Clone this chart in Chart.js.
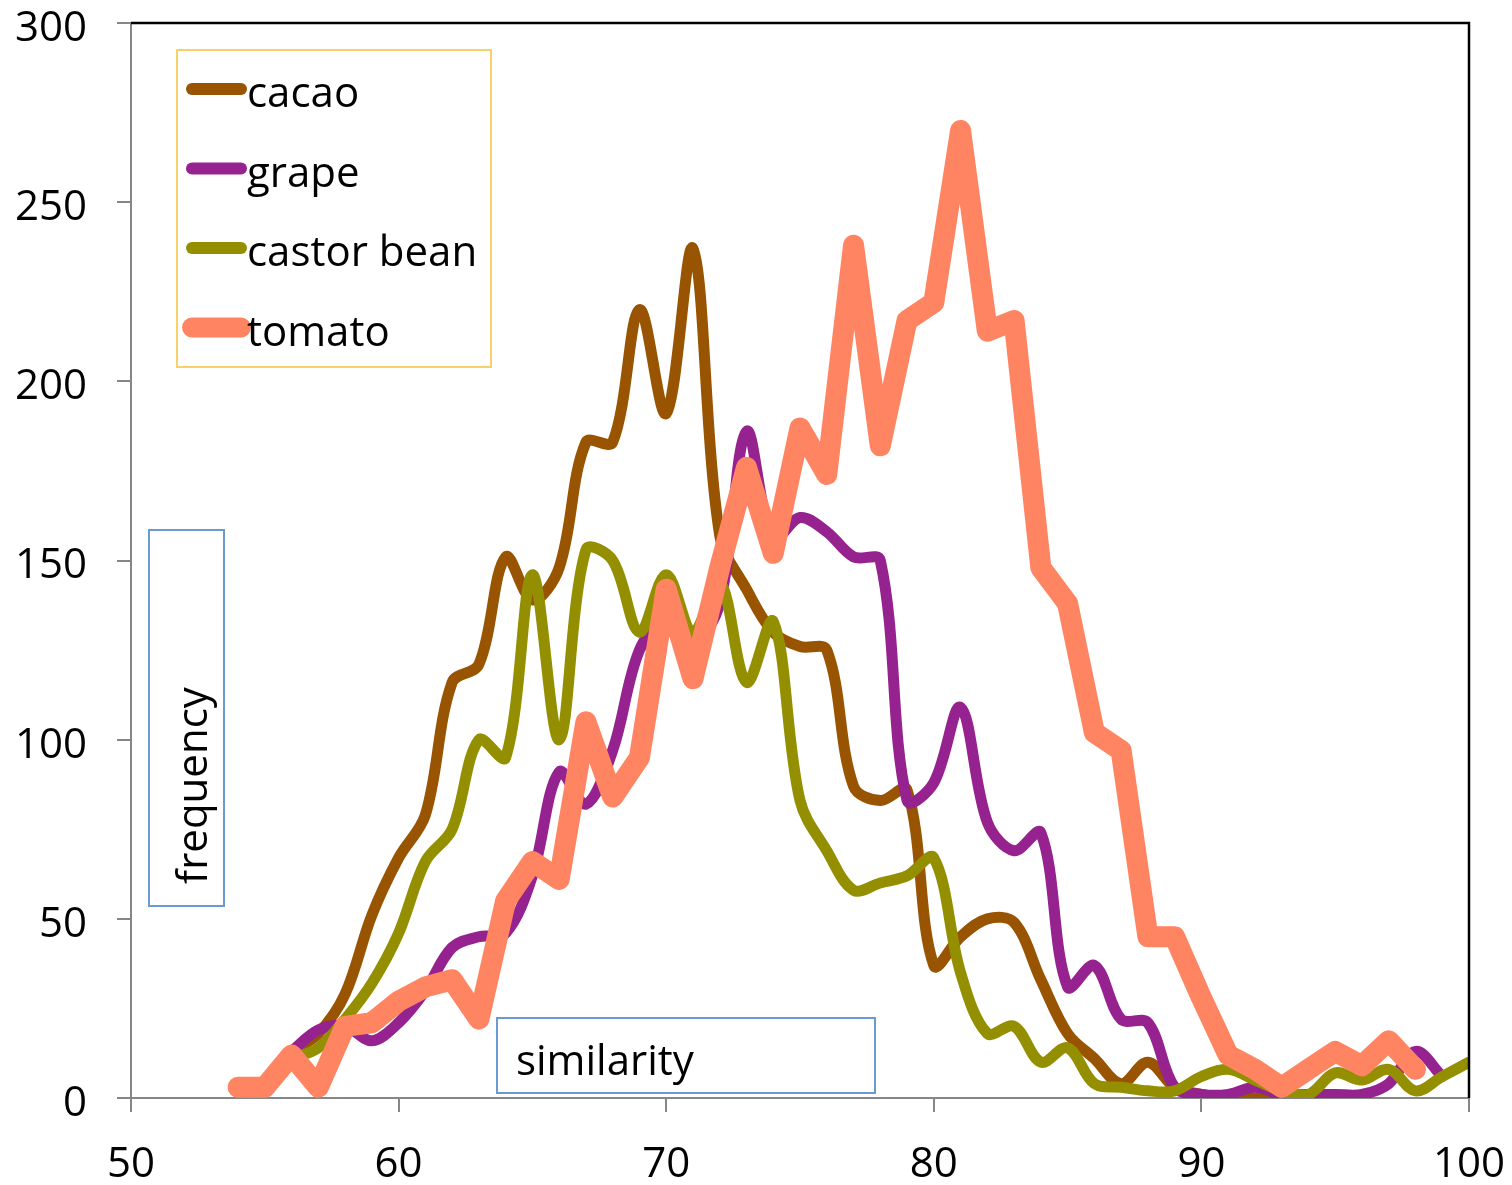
<!DOCTYPE html>
<html>
<head>
<meta charset="utf-8">
<script src="https://cdn.jsdelivr.net/npm/chart.js"></script>
<style>
  html, body { margin: 0; padding: 0; background: #fff; }
  #wrap { width: 1512px; height: 1185px; position: relative; }
</style>
</head>
<body>
<div id="wrap"><canvas id="chart" width="1512" height="1185"></canvas></div>
<script>
// similarity values 54..100
var similarity = [54,55,56,57,58,59,60,61,62,63,64,65,66,67,68,69,70,71,72,73,74,75,76,77,
  78,79,80,81,82,83,84,85,86,87,88,89,90,91,92,93,94,95,96,97,98,99,100];

var cacao = [null,null,13,18,29,51,67,79,116,121,151,139,148,183,183,220,191,237,157,142,130,126,125,87,
  83,86,37,45,50,49,33,18,11,4,10,3,1,0,0,0,null,null,null,null,null,null,null];
var grape = [null,null,13,19,20,16,21,30,42,45,46,62,91,82,97,125,133,127,138,186,156,162,158,151,
  150,83,88,109,77,69,74,31,37,22,21,3,1,1,3,1,1,1,1,4,13,6,null];
var castorBean = [null,null,11,14,22,32,46,66,75,100,95,146,100,153,150,130,146,130,144,116,133,83,69,58,
  60,62,67,35,18,20,10,14,4,3,2,2,6,8,5,2,1,7,5,8,2,6,10];
var tomato = [3,3,12,3,20,21,27,31,33,22,55,66,61,105,84,95,142,117,148,176,152,187,174,238,
  182,217,222,270,214,217,148,138,102,97,45,45,28,12,8,3,8,13,9,16,8,null,null];

var xTicks = [50,60,70,80,90,100];
var yTicks = [0,50,100,150,200,250,300];

var FONT = "'Open Sans', sans-serif";

function pts(vals) {
  return similarity.map(function (s, i) { return { x: s, y: vals[i] }; });
}

var series = [
  { label: 'cacao', data: cacao, color: '#985400', width: 11, smooth: true, order: 4 },
  { label: 'grape', data: grape, color: '#95228F', width: 11, smooth: true, order: 3 },
  { label: 'castor bean', data: castorBean, color: '#948F00', width: 11, smooth: true, order: 2 },
  { label: 'tomato', data: tomato, color: '#FF8562', width: 21, smooth: false, order: 1 }
];

var datasets = series.map(function (s) {
  return {
    label: s.label,
    data: pts(s.data),
    borderColor: s.color,
    backgroundColor: s.color,
    borderWidth: s.width,
    pointRadius: 0,
    tension: s.smooth ? 0.35 : 0,
    borderCapStyle: 'round',
    borderJoinStyle: 'round',
    fill: false,
    order: s.order,
    spanGaps: false
  };
});

var extras = {
  id: 'extras',
  afterDraw: function (chart) {
    var ctx = chart.ctx, a = chart.chartArea;
    ctx.save();
    // top and right frame
    ctx.strokeStyle = '#000';
    ctx.lineWidth = 2.5;
    ctx.beginPath();
    ctx.moveTo(a.left, a.top);
    ctx.lineTo(a.right, a.top);
    ctx.lineTo(a.right, a.bottom);
    ctx.stroke();

    // legend box
    ctx.strokeStyle = '#F9D16B';
    ctx.lineWidth = 2;
    ctx.strokeRect(177, 50, 314, 317);
    ctx.font = '42px ' + FONT;
    ctx.fillStyle = '#000';
    ctx.textBaseline = 'alphabetic';
    ctx.textAlign = 'left';
    var ds = chart.data.datasets;
    for (var i = 0; i < ds.length; i++) {
      var y = 89 + i * 79.5;
      ctx.strokeStyle = ds[i].borderColor;
      ctx.lineWidth = ds[i].borderWidth > 12 ? 20 : 12;
      ctx.lineCap = 'round';
      ctx.beginPath();
      ctx.moveTo(192, y);
      ctx.lineTo(241, y);
      ctx.stroke();
      ctx.fillText(ds[i].label, 247, y + 18);
    }

    // axis title boxes
    ctx.strokeStyle = '#6C9AD0';
    ctx.lineWidth = 2;
    ctx.strokeRect(149, 530, 75, 376);
    ctx.strokeRect(497, 1018, 378, 75);

    ctx.fillStyle = '#000';
    ctx.font = '42px ' + FONT;
    ctx.textAlign = 'left';
    ctx.fillText('similarity', 516, 1075);

    ctx.translate(207, 884);
    ctx.rotate(-Math.PI / 2);
    ctx.fillText('frequency', 0, 0);
    ctx.restore();
  }
};

new Chart(document.getElementById('chart'), {
  type: 'line',
  data: { datasets: datasets },
  options: {
    responsive: false,
    animation: false,
    layout: { padding: { top: 23, right: 43, left: 0, bottom: 0 } },
    plugins: { legend: { display: false }, tooltip: { enabled: false } },
    scales: {
      x: {
        type: 'linear',
        min: 50,
        max: 100,
        afterBuildTicks: function (scale) { scale.ticks = xTicks.map(function (v) { return { value: v }; }); },
        afterFit: function (scale) {
          scale.height = 87;
          scale.paddingLeft = 0; scale.paddingRight = 0;
        },
        grid: { display: true, drawOnChartArea: false, drawTicks: true, tickLength: 14, color: '#868686', lineWidth: 2 },
        border: { color: '#868686', width: 2 },
        ticks: { color: '#000', font: { family: FONT, size: 42 }, padding: 28, maxRotation: 0 }
      },
      y: {
        min: 0,
        max: 300,
        afterBuildTicks: function (scale) { scale.ticks = yTicks.map(function (v) { return { value: v }; }); },
        afterFit: function (scale) {
          scale.width = 131;
          scale.paddingTop = 0; scale.paddingBottom = 0;
        },
        grid: { display: true, drawOnChartArea: false, drawTicks: true, tickLength: 14, color: '#868686', lineWidth: 2 },
        border: { color: '#868686', width: 2 },
        ticks: { color: '#000', font: { family: FONT, size: 42, lineHeight: 1 }, padding: 30, labelOffset: 6 }
      }
    }
  },
  plugins: [extras]
});
</script>
</body>
</html>
